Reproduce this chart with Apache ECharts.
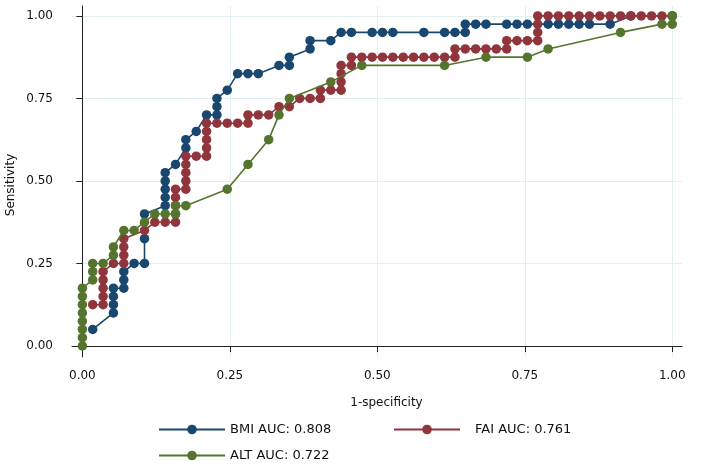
<!DOCTYPE html>
<html>
<head>
<meta charset="utf-8">
<script src="https://cdn.jsdelivr.net/npm/echarts@6/dist/echarts.min.js"></script>
<style>
html,body{margin:0;padding:0;background:#fff;}
#chart{width:713px;height:465px;}
</style>
</head>
<body>
<div id="chart"></div>
<script>
// ROC curve points: 1-specificity (x) and sensitivity (y)
var bmiX = [0.0175,0.0526,0.0526,0.0526,0.0526,0.0702,0.0702,0.0702,0.0877,0.1053,0.1053,0.1053,0.1404,0.1404,0.1404,0.1404,0.1404,0.1579,0.1754,0.1754,0.1930,0.2105,0.2281,0.2281,0.2281,0.2456,0.2632,0.2807,0.2982,0.3333,0.3509,0.3509,0.3860,0.3860,0.4211,0.4386,0.4561,0.4912,0.5088,0.5263,0.5789,0.6140,0.6316,0.6491,0.6491,0.6667,0.6842,0.7193,0.7368,0.7544,0.7895,0.8070,0.8246,0.8421,0.8596,0.8947,0.9298,1.0];
var bmiY = [0.050,0.100,0.125,0.150,0.175,0.175,0.200,0.225,0.250,0.250,0.325,0.400,0.425,0.450,0.475,0.500,0.525,0.550,0.600,0.625,0.650,0.700,0.700,0.725,0.750,0.775,0.825,0.825,0.825,0.850,0.850,0.875,0.900,0.925,0.925,0.950,0.950,0.950,0.950,0.950,0.950,0.950,0.950,0.950,0.975,0.975,0.975,0.975,0.975,0.975,0.975,0.975,0.975,0.975,0.975,0.975,1.000,1.000];

var faiX = [0.0175,0.0351,0.0351,0.0351,0.0351,0.0351,0.0526,0.0702,0.0702,0.0702,0.0702,0.1053,0.1228,0.1404,0.1579,0.1579,0.1579,0.1579,0.1579,0.1754,0.1754,0.1754,0.1754,0.1754,0.1930,0.2105,0.2105,0.2105,0.2105,0.2105,0.2281,0.2456,0.2632,0.2807,0.2807,0.2982,0.3158,0.3333,0.3509,0.3684,0.3860,0.4035,0.4035,0.4211,0.4386,0.4386,0.4386,0.4386,0.4561,0.4561,0.4737,0.4912,0.5088,0.5263,0.5439,0.5614,0.5789,0.5965,0.6140,0.6316,0.6316,0.6491,0.6667,0.6842,0.7018,0.7193,0.7193,0.7368,0.7544,0.7719,0.7719,0.7719,0.7719,0.7895,0.8070,0.8246,0.8421,0.8596,0.8772,0.8947,0.9123,0.9298,0.9474,0.9649,0.9825,1.0];
var faiY = [0.125,0.125,0.150,0.175,0.200,0.225,0.250,0.250,0.275,0.300,0.325,0.350,0.375,0.375,0.375,0.400,0.425,0.450,0.475,0.475,0.500,0.525,0.550,0.575,0.575,0.575,0.600,0.625,0.650,0.675,0.675,0.675,0.675,0.675,0.700,0.700,0.700,0.725,0.725,0.750,0.750,0.750,0.775,0.775,0.775,0.800,0.825,0.850,0.850,0.875,0.875,0.875,0.875,0.875,0.875,0.875,0.875,0.875,0.875,0.875,0.900,0.900,0.900,0.900,0.900,0.900,0.925,0.925,0.925,0.925,0.950,0.975,1.000,1.000,1.000,1.000,1.000,1.000,1.000,1.000,1.000,1.000,1.000,1.000,1.000,1.000];

var altX = [0,0,0,0,0,0,0,0,0.0175,0.0175,0.0175,0.0351,0.0526,0.0526,0.0702,0.0877,0.1053,0.1228,0.1404,0.1579,0.1579,0.1754,0.2456,0.2807,0.3158,0.3333,0.3509,0.4211,0.4737,0.6140,0.6842,0.7544,0.7895,0.9123,0.9825,1.0,1.0];
var altY = [0.000,0.025,0.050,0.075,0.100,0.125,0.150,0.175,0.200,0.225,0.250,0.250,0.275,0.300,0.350,0.350,0.375,0.400,0.400,0.400,0.425,0.425,0.475,0.550,0.625,0.700,0.750,0.800,0.850,0.850,0.875,0.875,0.900,0.950,0.975,0.975,1.000];

var seriesNames = ['BMI AUC: 0.808', 'FAI AUC: 0.761', 'ALT AUC: 0.722'];
var tickValues = [0, 0.25, 0.5, 0.75, 1];
var xTitle = '1-specificity';
var yTitle = 'Sensitivity';

var colors = ['#1a476f', '#90353b', '#55752f'];
var FONT = 'DejaVu Sans';

function pairs(xs, ys) {
  var out = [];
  for (var k = 0; k < xs.length; k++) out.push([xs[k], ys[k]]);
  return out;
}

function mkSeries(name, xs, ys, color, z) {
  return {
    name: name,
    type: 'line',
    data: pairs(xs, ys),
    symbol: 'circle',
    symbolSize: 9.5,
    showSymbol: true,
    color: color,
    itemStyle: { color: color, borderWidth: 0 },
    lineStyle: { color: color, width: 1.6 },
    z: z,
    silent: true,
    emphasis: { disabled: true }
  };
}

var axisColor = '#222';
var gridColor = 'rgb(226,239,241)';

function legendAt(name, left, top, pad) {
  return {
    data: [name],
    left: left,
    top: top,
    padding: 0,
    orient: 'horizontal',
    itemWidth: 66,
    itemHeight: 12,
    selectedMode: false,
    textStyle: { fontFamily: FONT, fontSize: 13, color: '#111', padding: [0, 0, 0, pad] }
  };
}

var chart = echarts.init(document.getElementById('chart'), null, { renderer: 'canvas' });
chart.setOption({
  animation: false,
  backgroundColor: '#fff',
  grid: { left: 72, right: 31, top: 6, bottom: 108, containLabel: false },
  xAxis: {
    type: 'value',
    min: -0.0176,
    max: 1.0165,
    axisLine: { show: true, lineStyle: { color: axisColor, width: 1 } },
    axisTick: { show: true, customValues: tickValues, length: 6, lineStyle: { color: axisColor } },
    axisLabel: { customValues: tickValues, margin: 13, fontFamily: FONT, fontSize: 12, color: '#111',
      formatter: function (v) { return v.toFixed(2); } },
    splitLine: { show: true, lineStyle: { color: gridColor, width: 1 } }
  },
  yAxis: {
    type: 'value',
    min: -0.0334,
    max: 1.030,
    axisLine: { show: true, lineStyle: { color: axisColor, width: 1 } },
    axisTick: { show: true, customValues: tickValues, length: 6, lineStyle: { color: axisColor } },
    axisLabel: { customValues: tickValues, margin: 19, fontFamily: FONT, fontSize: 12, color: '#111',
      formatter: function (v) { return v.toFixed(2); } },
    splitLine: { show: true, lineStyle: { color: gridColor, width: 1 } }
  },
  legend: [
    legendAt(seriesNames[0], 158, 423, 0),
    legendAt(seriesNames[1], 393, 423, 10),
    legendAt(seriesNames[2], 158, 449, 0)
  ],
  graphic: [
    { type: 'text', x: 386.5, y: 402.5, style: { text: xTitle, font: '12px "DejaVu Sans"', fill: '#111', textAlign: 'center', textVerticalAlign: 'middle' } },
    { type: 'text', x: 10.5, y: 185, rotation: Math.PI / 2, style: { text: yTitle, font: '12px "DejaVu Sans"', fill: '#111', textAlign: 'center', textVerticalAlign: 'middle' } }
  ],
  series: [
    mkSeries(seriesNames[0], bmiX, bmiY, colors[0], 2),
    mkSeries(seriesNames[1], faiX, faiY, colors[1], 3),
    mkSeries(seriesNames[2], altX, altY, colors[2], 4)
  ]
});
</script>
</body>
</html>
